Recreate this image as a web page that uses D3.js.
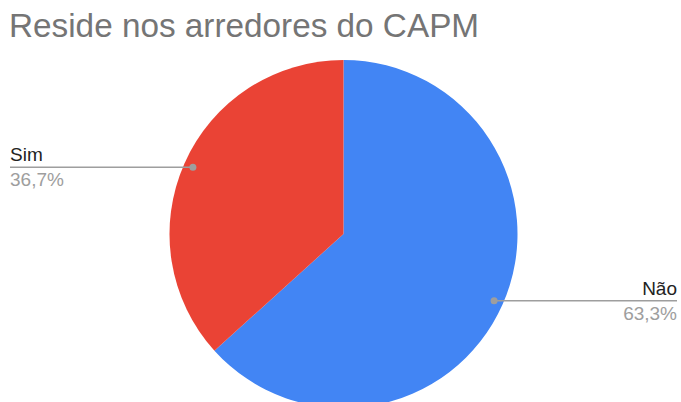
<!DOCTYPE html>
<html>
<head>
<meta charset="utf-8">
<script src="https://cdn.jsdelivr.net/npm/d3@7"></script>
<style>
  body { margin: 0; background: #fff; }
  text { font-family: "Liberation Sans", Arial, sans-serif; }
</style>
</head>
<body>
<div id="chart"></div>
<script>
// data
var categories = ["Não", "Sim"];
var values = [63.3, 36.7];
var pctLabels = ["63,3%", "36,7%"];
var colors = ["#4285f4", "#ea4335"];

var width = 681, height = 402;
var cx = 343.5, cy = 234, radius = 174;

var svg = d3.select("#chart").append("svg")
    .attr("width", width)
    .attr("height", height);

// title
svg.append("text")
    .attr("x", 9)
    .attr("y", 37)
    .style("font-size", "33.3px")
    .style("fill", "#757575")
    .text("Reside nos arredores do CAPM");

var pie = d3.pie().sort(null).value(d => d);
var arcs = pie(values);
var arc = d3.arc().innerRadius(0).outerRadius(radius);

var g = svg.append("g")
    .attr("transform", "translate(" + cx + "," + cy + ")");

g.selectAll("path")
  .data(arcs)
  .join("path")
    .attr("d", arc)
    .style("fill", (d, i) => colors[i]);

// labels with leader lines
var dotR = radius * 0.947;
arcs.forEach(function (d, i) {
  var a = (d.startAngle + d.endAngle) / 2;
  var px = cx + dotR * Math.sin(a);
  var py = cy - dotR * Math.cos(a);
  var right = Math.sin(a) > 0;
  var endX = right ? 677 : 10;

  svg.append("line")
      .attr("x1", px).attr("y1", py)
      .attr("x2", endX).attr("y2", py)
      .attr("stroke", "#9e9e9e")
      .attr("stroke-width", 1.5);

  svg.append("circle")
      .attr("cx", px).attr("cy", py)
      .attr("r", 3.5)
      .style("fill", "#9e9e9e");

  svg.append("text")
      .attr("x", endX)
      .attr("y", py - 6)
      .attr("text-anchor", right ? "end" : "start")
      .style("font-size", "19px")
      .style("fill", "#222")
      .text(categories[i]);

  svg.append("text")
      .attr("x", endX)
      .attr("y", py + 19)
      .attr("text-anchor", right ? "end" : "start")
      .style("font-size", "19px")
      .style("fill", "#9e9e9e")
      .text(pctLabels[i]);
});
</script>
</body>
</html>
